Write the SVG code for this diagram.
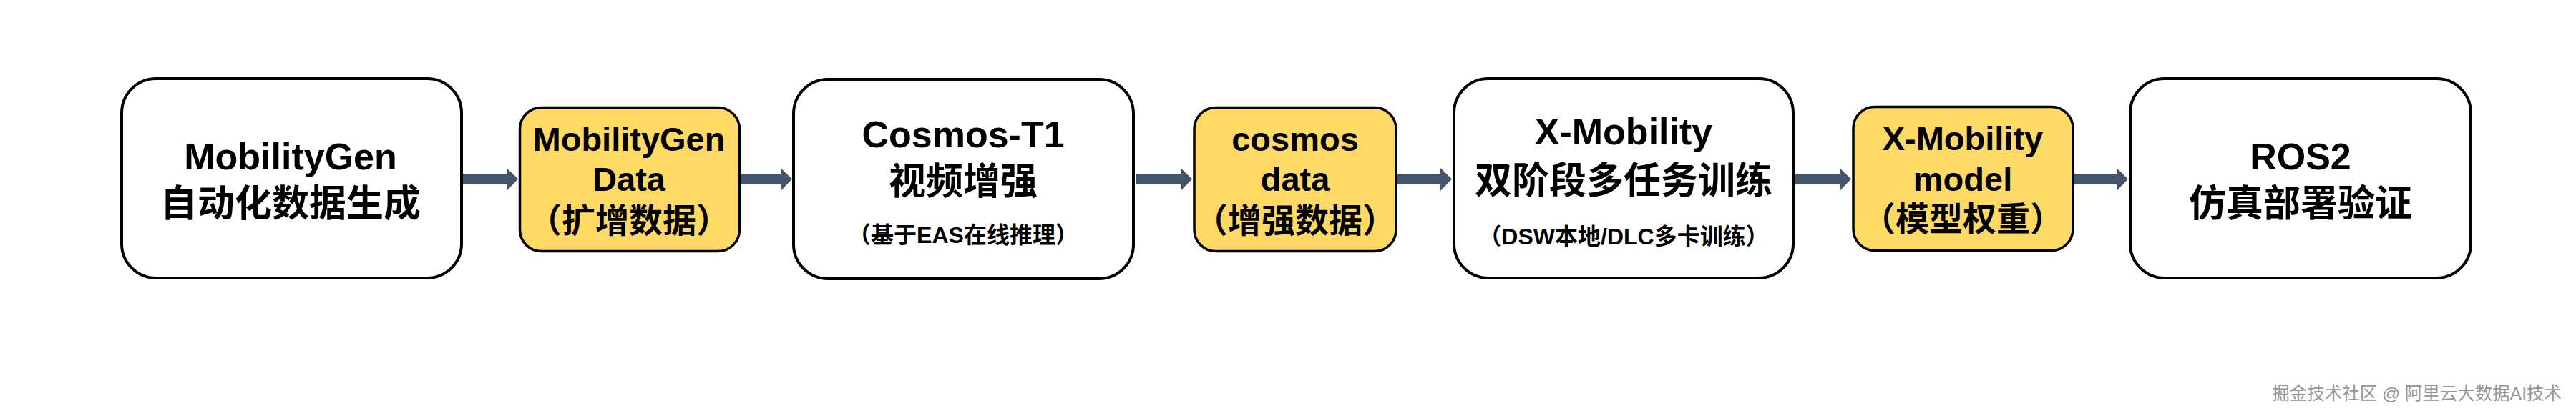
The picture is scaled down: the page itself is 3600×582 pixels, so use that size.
<svg xmlns="http://www.w3.org/2000/svg" width="3600" height="582" viewBox="0 0 3600 582">
<style>
.box{fill:#ffffff;stroke:#000000;stroke-width:4}
.data{fill:#FFD966;stroke:#000000;stroke-width:3.5}
.t{font-family:"Liberation Sans","Noto Sans CJK SC",sans-serif;font-weight:bold;fill:#000000;text-anchor:middle}
.big{font-size:52px}
.mid{font-size:47px}
.small{font-size:32px}
.arrow{fill:#44546A}
.wm{font-family:"Liberation Sans","Noto Sans CJK SC",sans-serif;font-size:24.5px;fill:#959595;text-anchor:end}
</style>
<rect width="3600" height="582" fill="#ffffff"/>
<g id="connectors">
<polygon class="arrow" points="647,243 708,243 708,235 724,250.5 708,267 708,258 647,258"/>
<polygon class="arrow" points="1036,243 1091,243 1091,235 1107,250.5 1091,267 1091,258 1036,258"/>
<polygon class="arrow" points="1587,243 1650,243 1650,235 1666,250.5 1650,267 1650,258 1587,258"/>
<polygon class="arrow" points="1953,243 2013,243 2013,235 2029,250.5 2013,267 2013,258 1953,258"/>
<polygon class="arrow" points="2509,243 2571,243 2571,235 2587,250.5 2571,267 2571,258 2509,258"/>
<polygon class="arrow" points="2899,243 2958,243 2958,235 2974,250.5 2958,267 2958,258 2899,258"/>
</g>
<g id="mobilitygen">
<rect class="box" x="170" y="110" width="475" height="279" rx="48"/>
<text class="t big" x="406" y="237">MobilityGen</text>
<text class="t big" x="406" y="303">自动化数据生成</text>
</g>
<g id="mobilitygen-data">
<rect class="data" x="726.5" y="150.5" width="307" height="201" rx="30"/>
<text class="t mid" x="879" y="211">MobilityGen</text>
<text class="t mid" x="879" y="267">Data</text>
<text class="t mid" x="879" y="325">（扩增数据）</text>
</g>
<g id="cosmos">
<rect class="box" x="1109" y="111" width="475" height="279" rx="48"/>
<text class="t big" x="1346" y="206">Cosmos-T1</text>
<text class="t big" x="1346" y="272">视频增强</text>
<text class="t small" x="1346" y="340">（基于EAS在线推理）</text>
</g>
<g id="cosmos-data">
<rect class="data" x="1669" y="150.5" width="282" height="201" rx="30"/>
<text class="t mid" x="1810" y="211">cosmos</text>
<text class="t mid" x="1810" y="267">data</text>
<text class="t mid" x="1810" y="325">（增强数据）</text>
</g>
<g id="xmobility">
<rect class="box" x="2032" y="110" width="474" height="279" rx="48"/>
<text class="t big" x="2269" y="202">X-Mobility</text>
<text class="t big" x="2269" y="271">双阶段多任务训练</text>
<text class="t small" x="2269" y="342">（DSW本地/DLC多卡训练）</text>
</g>
<g id="xmobility-model">
<rect class="data" x="2590" y="149.5" width="307" height="201" rx="30"/>
<text class="t mid" x="2743" y="210">X-Mobility</text>
<text class="t mid" x="2743" y="267">model</text>
<text class="t mid" x="2743" y="323">（模型权重）</text>
</g>
<g id="ros2">
<rect class="box" x="2977" y="110" width="476" height="279" rx="48"/>
<text class="t big" x="3215" y="237">ROS2</text>
<text class="t big" x="3215" y="303">仿真部署验证</text>
</g>
<text class="wm" x="3580" y="559">掘金技术社区 @ 阿里云大数据AI技术</text>
</svg>
